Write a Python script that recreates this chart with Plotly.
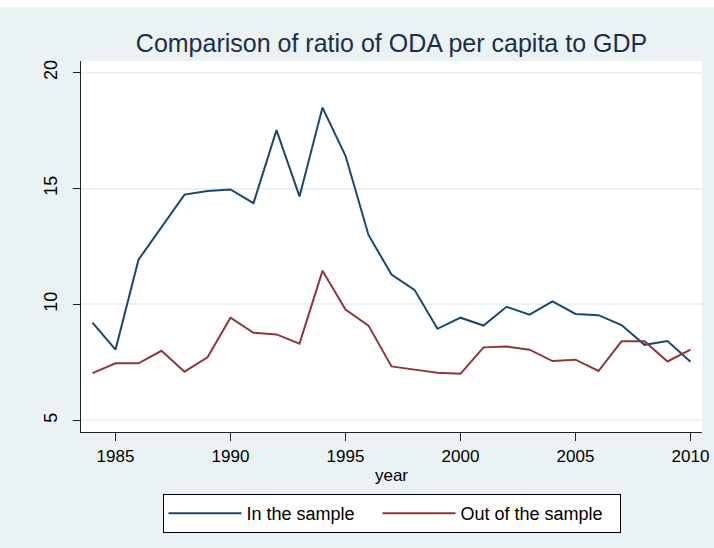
import plotly.graph_objects as go

years = list(range(1984, 2011))
in_sample = [9.22, 8.05, 11.93, 13.36, 14.74, 14.89, 14.96, 14.37, 17.52, 14.66,
             18.49, 16.41, 13.00, 11.29, 10.63, 8.95, 9.43, 9.09, 9.90, 9.56,
             10.13, 9.59, 9.54, 9.11, 8.26, 8.42, 7.53]
out_sample = [7.04, 7.46, 7.46, 8.00, 7.10, 7.72, 9.43, 8.78, 8.71, 8.31,
              11.45, 9.78, 9.09, 7.33, 7.19, 7.06, 7.01, 8.15, 8.19, 8.05,
              7.56, 7.62, 7.13, 8.41, 8.41, 7.54, 8.05]
x_ticks = [1985, 1990, 1995, 2000, 2005, 2010]
y_ticks = [5, 10, 15, 20]

BG = "#EAF2F3"
FONT = "Liberation Sans, Arial, sans-serif"

fig = go.Figure()
fig.add_trace(go.Scatter(x=years, y=in_sample, mode="lines", name="In the sample",
                         line=dict(color="#1A476F", width=2), legendwidth=126))
fig.add_trace(go.Scatter(x=years, y=out_sample, mode="lines", name="Out of the sample",
                         line=dict(color="#90353B", width=2), legendwidth=154))

W, H = 714, 548
ml, mr, mt, mb = 81, 12, 61, 116
ph = H - mt - mb

fig.update_layout(
    width=W, height=H, autosize=False,
    paper_bgcolor=BG, plot_bgcolor="white",
    margin=dict(l=ml, r=mr, t=mt, b=mb, pad=0, autoexpand=False),
    font=dict(family=FONT, size=17, color="black"),
    title=dict(text="Comparison of ratio of ODA per capita to GDP",
               x=0.5, xref="paper", xanchor="center",
               y=1 - 43 / H, yref="container", yanchor="middle",
               font=dict(size=25, color="#1C2E4A", family=FONT)),
    xaxis=dict(range=[1983.5, 2010.5], tickvals=x_ticks, showgrid=False,
               showline=True, linecolor="#222222", linewidth=1.2,
               ticks="outside", ticklen=8, tickcolor="#222222", tickwidth=1.2,
               zeroline=False, automargin=False,
               title=dict(text="year", standoff=4, font=dict(size=17))),
    yaxis=dict(range=[4.5, 20.5], tickvals=y_ticks, showgrid=True,
               gridcolor=BG, gridwidth=1.5,
               showline=True, linecolor="#222222", linewidth=1.2,
               ticks="outside", ticklen=7, tickcolor="#222222", tickwidth=1.2,
               zeroline=False, tickangle=-90, ticklabelstandoff=9, automargin=False,
               tickfont=dict(size=18)),
    legend=dict(orientation="h", x=0.5, xanchor="center", y=-(494 - (H - mb)) / ph,
                yanchor="top", bgcolor="white", bordercolor="black", borderwidth=1,
                font=dict(size=18), itemwidth=73),
    shapes=[dict(type="rect", xref="paper", yref="paper", x0=-0.2, x1=1.2,
                 y0=1 + (mt - 7) / ph, y1=1 + mt / ph + 0.01,
                 fillcolor="white", line=dict(width=0), layer="below")],
)

fig.write_html("out.html", config={"displayModeBar": False},
               post_script="document.body.style.margin='0';")
